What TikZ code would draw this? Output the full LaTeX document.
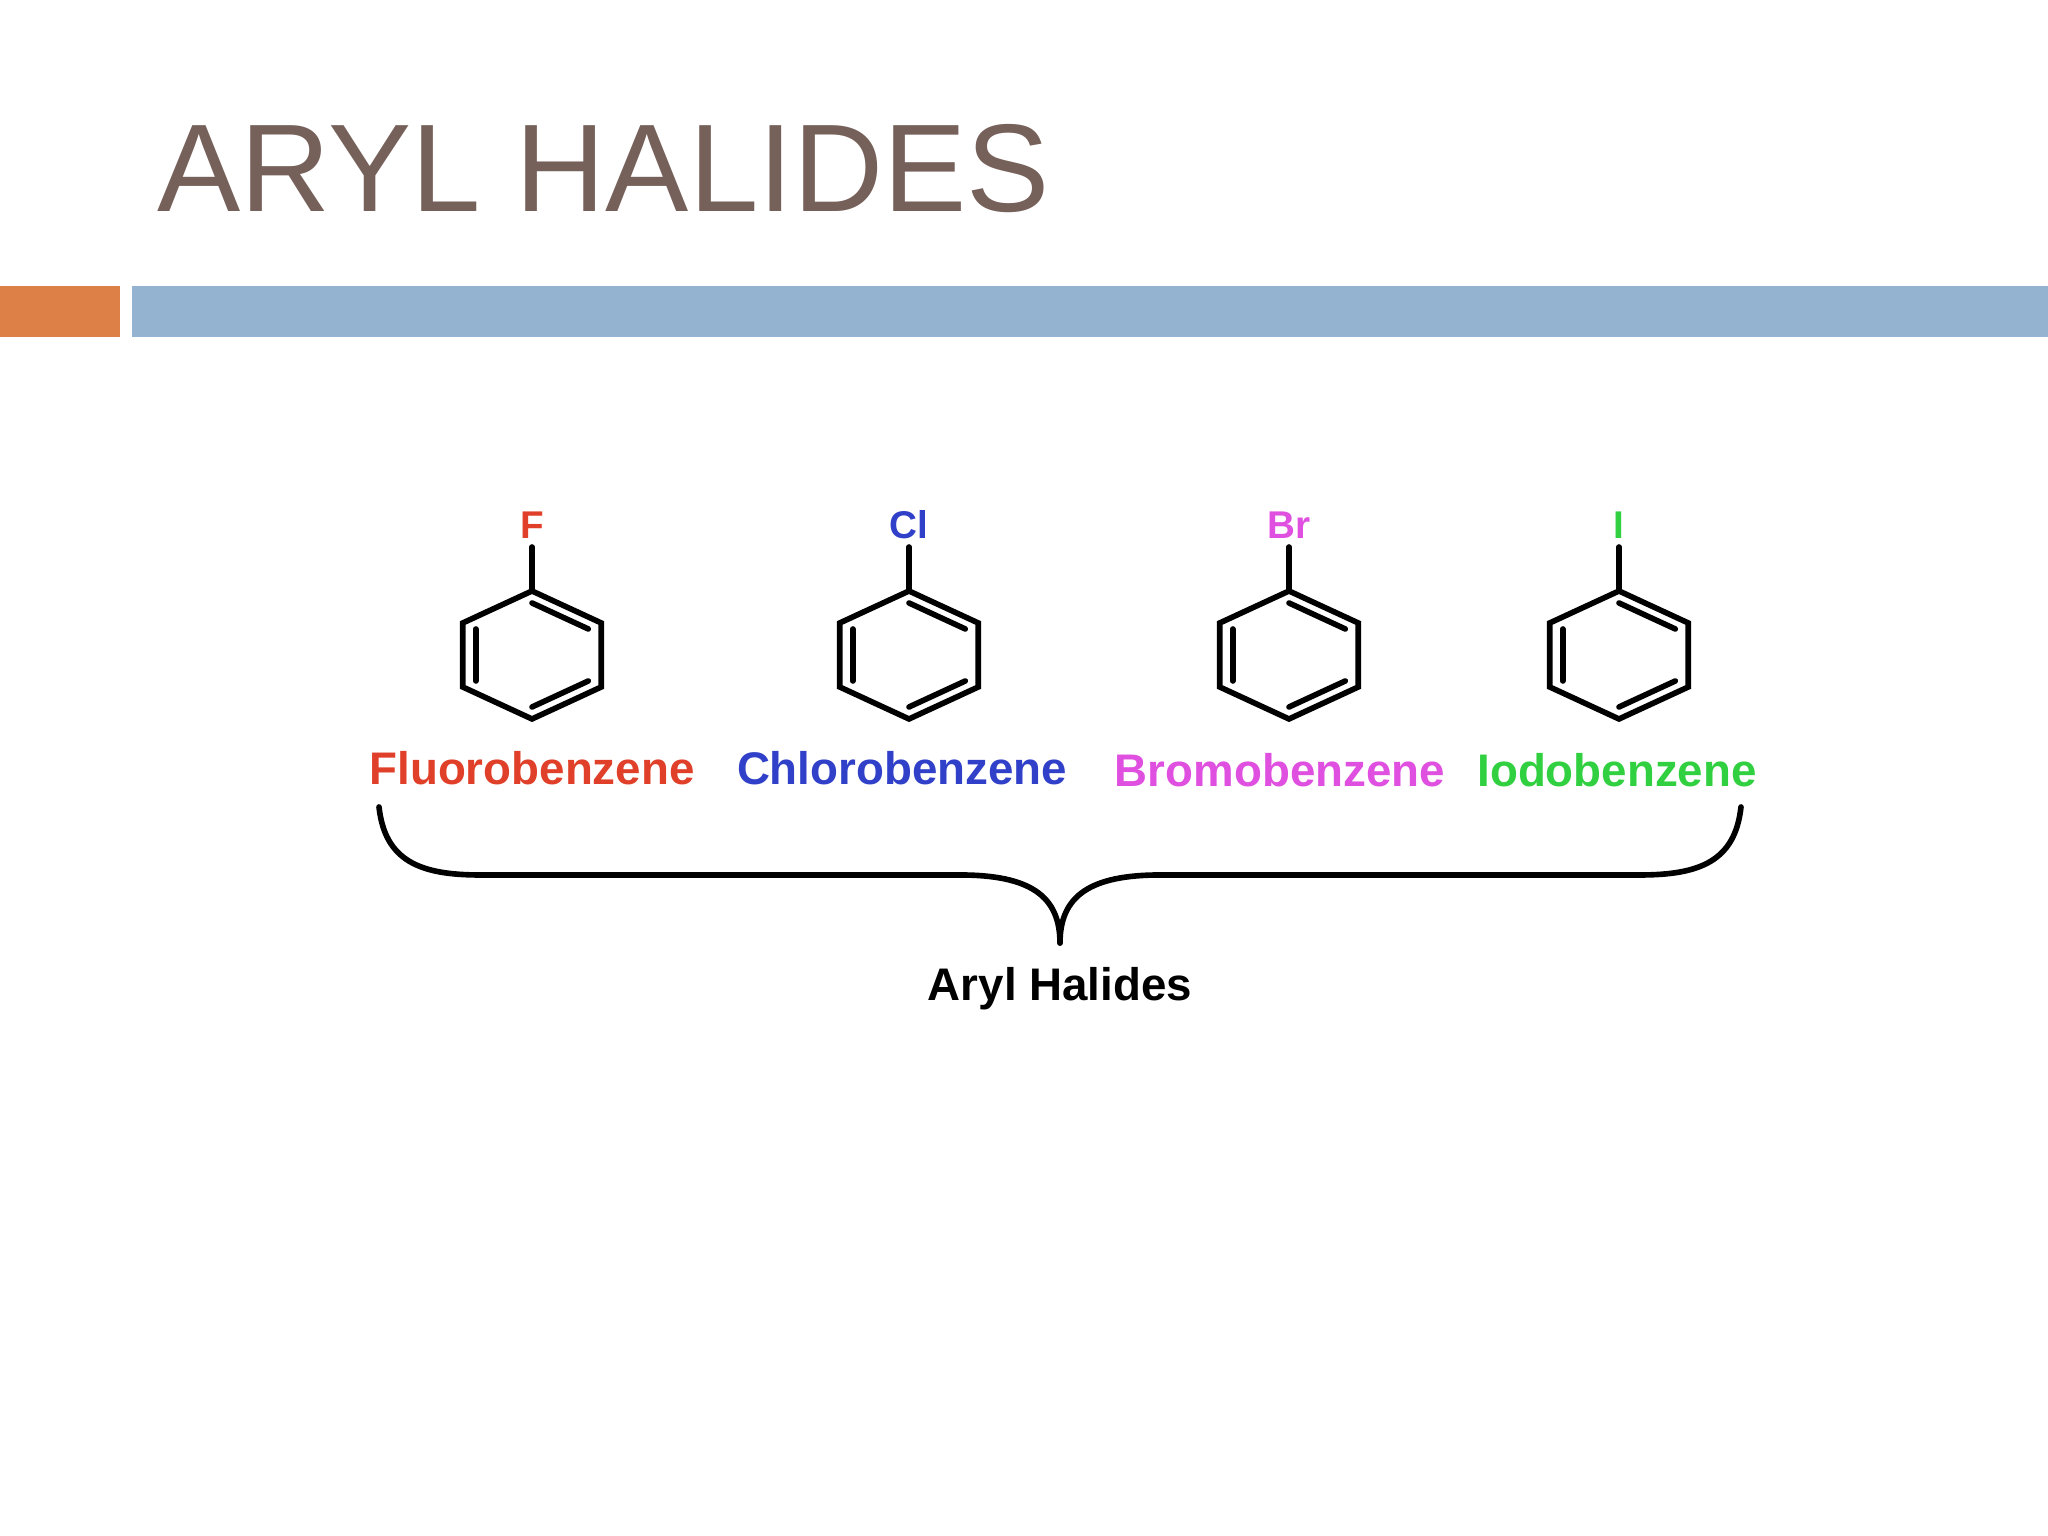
\documentclass[tikz,border=0pt]{standalone}
\usepackage{fontspec}
\setmainfont{Liberation Sans}
\usetikzlibrary{positioning,calc}

\definecolor{titlebrown}{HTML}{76605A}
\definecolor{barorange}{HTML}{DD8047}
\definecolor{barblue}{HTML}{93B3D0}
\definecolor{fred}{HTML}{E0402A}
\definecolor{clblue}{HTML}{3040C8}
\definecolor{brpink}{HTML}{E050E0}
\definecolor{igreen}{HTML}{30D040}

\tikzset{
  bond/.style={line width=1.6pt, line cap=round},
  cmpname/.style={font=\fontsize{13}{15}\selectfont\bfseries},
  atom/.style={font=\fontsize{11}{12}\selectfont\bfseries, inner sep=1pt}
}

% ring with substituent: #1 name, #2 x, #3 atom label, #4 colour
\newcommand{\benzring}[4]{
  \begin{scope}[shift={(#2,8.81)}, xscale=1.25]
    \coordinate (#1-top) at (90:.64);
    \draw[bond] (90:.64) -- (30:.64) -- (-30:.64) -- (-90:.64) -- (-150:.64) -- (150:.64) -- cycle;
    \draw[bond] (90:.52) -- (30:.52);
    \draw[bond] (150:.52) -- (-150:.52);
    \draw[bond] (-30:.52) -- (-90:.52);
    \coordinate (#1-end) at (0,1.08);
    \node[atom, #4, anchor=south] (#1-atom) at (0,1.12) {#3};
    \draw[bond] (#1-top) -- (#1-end);
  \end{scope}
}

\begin{document}
\begin{tikzpicture}[x=1cm,y=1cm]
\useasboundingbox[fill=white] (0,0) rectangle (20.48,15.36);

% title and bars
\node[anchor=base west, inner sep=0, text=titlebrown, font=\fontsize{35.5}{38}\selectfont] (title) at (1.57,13.24) {ARYL HALIDES};
\fill[barorange] (0,11.99) rectangle (1.20,12.50);
\fill[barblue] (1.32,11.99) rectangle (20.48,12.50);

% rings
\benzring{f}{5.32}{F}{fred}
\benzring{cl}{9.09}{Cl}{clblue}
\benzring{br}{12.89}{Br}{brpink}
\benzring{io}{16.19}{I}{igreen}

% names
\node[cmpname, text=fred] (fname) at (5.32,7.68) {Fluorobenzene};
\node[cmpname, text=clblue] (clname) at (9.02,7.68) {Chlorobenzene};
\node[cmpname, text=brpink] (brname) at (12.80,7.66) {Bromobenzene};
\node[cmpname, text=igreen] (ioname) at (16.17,7.66) {Iodobenzene};

% brace
\coordinate (bl) at (3.79,7.29);
\coordinate (br) at (17.41,7.29);
\coordinate (tip) at (10.60,5.93);
\draw[bond] (bl) .. controls (3.85,6.75) and (4.2,6.61) .. (4.8,6.61)
  -- (9.6,6.61) .. controls (10.3,6.61) and (10.6,6.4) .. (tip);
\draw[bond] (br) .. controls (17.35,6.75) and (17.0,6.61) .. (16.4,6.61)
  -- (11.6,6.61) .. controls (10.9,6.61) and (10.6,6.4) .. (tip);
\node[cmpname, below=0.12 of tip] (aryl) {Aryl Halides};
\end{tikzpicture}
\end{document}
